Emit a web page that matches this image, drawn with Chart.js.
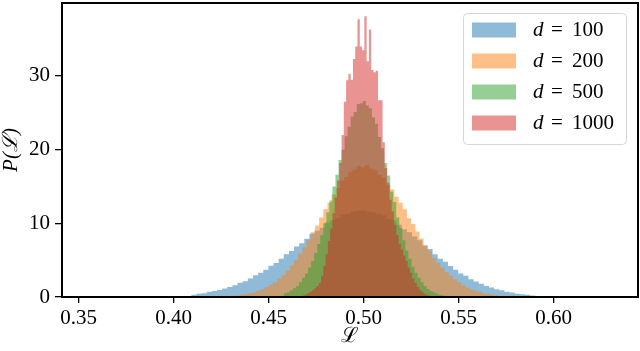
<!DOCTYPE html>
<html>
<head>
<meta charset="utf-8">
<script src="https://cdn.jsdelivr.net/npm/chart.js@4.4.1/dist/chart.umd.min.js"></script>
<style>
  html, body { margin: 0; padding: 0; background: #fff; }
  #wrap { width: 640px; height: 351px; }
</style>
</head>
<body>
<div id="wrap"><canvas id="histChart"></canvas></div>
<script>
// histogram of L for each dimension d, heights
const dims = [100, 200, 500, 1000];
const binStarts = [0.404, 0.426, 0.458, 0.4656];
const binWidths = [0.0027, 0.0022, 0.0016, 0.0012];

const d100 = [0.05, 0.1, 0.3, 0.45, 0.5, 0.7, 0.8, 0.95, 1.15, 1.35,
  1.6, 1.95, 2.15, 2.5, 2.95, 3.3, 3.7, 4.25, 4.6, 5.2,
  5.8, 6.25, 6.85, 7.3, 7.9, 8.6, 9.0, 9.4, 10.1, 10.4,
  10.7, 11.2, 11.3, 11.6, 11.7, 11.75, 11.6, 11.5, 11.3, 11.1,
  10.6, 10.4, 9.8, 9.2, 8.8, 8.2, 7.7, 7.0, 6.5, 5.8,
  5.2, 4.8, 4.2, 3.7, 3.2, 2.9, 2.4, 2.1, 1.8, 1.5,
  1.3, 1.05, 0.9, 0.7, 0.6, 0.45, 0.38, 0.3, 0.22, 0.15];
const d200 = [0.1, 0.12, 0.17, 0.22, 0.3, 0.4, 0.5, 0.65, 0.85, 1.05,
  1.35, 1.7, 2.0, 2.5, 3.0, 3.6, 4.3, 5.0, 5.9, 6.8,
  7.7, 8.8, 9.7, 10.8, 11.9, 12.8, 13.9, 14.8, 15.8, 16.3,
  17.0, 17.3, 17.8, 17.6, 17.9, 17.4, 17.2, 16.6, 16.2, 15.2,
  14.6, 13.6, 12.8, 11.9, 10.7, 9.9, 8.9, 7.9, 7.0, 6.2,
  5.3, 4.6, 4.0, 3.4, 2.9, 2.4, 2.0, 1.6, 1.3, 1.05,
  0.85, 0.7, 0.52, 0.42, 0.32, 0.25];
const d500 = [0.5, 0.65, 0.9, 1.2, 1.5, 2.0, 2.6, 3.2, 4.0, 4.9,
  6.0, 7.2, 8.4, 10.0, 11.5, 13.1, 15.0, 16.6, 18.6, 20.0,
  21.8, 23.1, 24.5, 25.1, 26.2, 26.3, 26.6, 26.0, 25.6, 24.4,
  23.5, 21.7, 20.2, 18.2, 16.5, 14.3, 12.9, 10.8, 9.4, 7.7,
  6.3, 5.2, 4.1, 3.3, 2.6, 2.0, 1.5, 1.1, 0.8, 0.6,
  0.43, 0.3, 0.2, 0.14];
const d1000 = [0.1, 0.15, 0.2, 0.35, 0.5, 0.7, 0.9, 1.2, 1.5, 1.9,
  2.9, 4.2, 5.8, 7.6, 9.3, 11.4, 13.5, 15.8, 18.2, 22.0,
  26.5, 29.4, 30.3, 29.5, 32.3, 34.0, 37.7, 34.0, 33.5, 38.1,
  32.0, 36.3, 30.8, 30.5, 30.7, 26.7, 26.7, 21.0, 17.5, 15.5,
  13.2, 11.6, 9.8, 8.4, 7.2, 6.4, 5.6, 4.9, 4.0, 3.3,
  2.5, 1.9, 1.4, 1.0, 0.7, 0.45, 0.3, 0.2];

const xTicks = [0.35, 0.40, 0.45, 0.50, 0.55, 0.60];
const yTicks = [0, 10, 20, 30];
const xRange = [0.3413, 0.6444];
const yRange = [0, 39.9];

const heights = [d100, d200, d500, d1000];
const colors = ["rgba(31,119,180,0.5)", "rgba(255,127,14,0.5)", "rgba(44,160,44,0.5)", "rgba(214,39,40,0.5)"];
const serif = "'Liberation Serif', 'DejaVu Serif', serif";

function histPoints(start, width, values) {
  const pts = values.map((h, i) => ({ x: start + i * width, y: h }));
  pts.push({ x: start + values.length * width, y: 0 });
  return pts;
}

const frame = {
  id: "frame",
  afterDraw(chart) {
    const { ctx, chartArea: a } = chart;
    ctx.save();
    ctx.strokeStyle = "#000";
    ctx.lineWidth = 2;
    ctx.strokeRect(a.left, a.top, a.right - a.left, a.bottom - a.top);
    ctx.restore();
  }
};

const legendBox = {
  id: "legendBox",
  afterDraw(chart) {
    const ctx = chart.ctx;
    const x = 463, y = 13, w = 163, h = 131, r = 4;
    ctx.save();
    ctx.beginPath();
    ctx.roundRect(x + 0.5, y + 0.5, w, h, r);
    ctx.fillStyle = "rgba(255,255,255,0.8)";
    ctx.fill();
    ctx.strokeStyle = "#d6d6d6";
    ctx.lineWidth = 1;
    ctx.stroke();
    chart.data.datasets.forEach((ds, i) => {
      const cy = 30 + i * 31;
      ctx.fillStyle = ds.backgroundColor;
      ctx.fillRect(472, cy - 7.5, 44, 15);
      ctx.fillStyle = "#000";
      ctx.textBaseline = "middle";
      ctx.textAlign = "left";
      ctx.font = "italic 21px " + serif;
      ctx.fillText("d", 533, cy);
      ctx.font = "21px " + serif;
      ctx.textAlign = "center";
      ctx.fillText("=", 557, cy);
      ctx.textAlign = "left";
      ctx.fillText(String(dims[i]), 572, cy);
    });
    ctx.restore();
  }
};

new Chart(document.getElementById("histChart"), {
  type: "line",
  data: {
    datasets: dims.map((d, i) => ({
      label: "d = " + d,
      data: histPoints(binStarts[i], binWidths[i], heights[i]),
      backgroundColor: colors[i],
      borderWidth: 0,
      pointRadius: 0,
      stepped: true,
      fill: "origin",
      order: dims.length - i
    }))
  },
  options: {
    responsive: true,
    maintainAspectRatio: false,
    animation: false,
    layout: { padding: { top: 3, right: 2, left: 0, bottom: 0 } },
    plugins: {
      legend: { display: false },
      tooltip: { enabled: false }
    },
    scales: {
      x: {
        type: "linear",
        min: xRange[0],
        max: xRange[1],
        afterBuildTicks: (scale) => { scale.ticks = xTicks.map(v => ({ value: v })); },
        afterFit: (scale) => { scale.height = 54; scale.paddingLeft = 0; scale.paddingRight = 0; },
        grid: { drawOnChartArea: false, color: "#000", lineWidth: 1.3, tickLength: 6 },
        border: { display: false },
        ticks: {
          color: "#000",
          font: { family: serif, size: 21 },
          padding: 3,
          maxRotation: 0,
          autoSkip: false,
          callback: (v) => v.toFixed(2)
        },
        title: {
          display: true,
          text: "ℒ",
          color: "#000",
          font: { family: serif, size: 21, lineHeight: 1 },
          padding: { top: 0, bottom: 4 }
        }
      },
      y: {
        min: yRange[0],
        max: yRange[1],
        afterBuildTicks: (scale) => { scale.ticks = yTicks.map(v => ({ value: v })); },
        afterFit: (scale) => { scale.width = 62; scale.paddingTop = 0; scale.paddingBottom = 0; },
        grid: { drawOnChartArea: false, color: "#000", lineWidth: 1.3, tickLength: 7 },
        border: { display: false },
        ticks: {
          color: "#000",
          font: { family: serif, size: 21 },
          padding: 5,
          autoSkip: false,
          callback: (v) => String(v)
        },
        title: {
          display: true,
          text: "P(ℒ)",
          color: "#000",
          font: { family: serif, size: 21, style: "italic", lineHeight: 1 },
          padding: { top: 1, bottom: 0 }
        }
      }
    }
  },
  plugins: [frame, legendBox]
});
</script>
</body>
</html>
